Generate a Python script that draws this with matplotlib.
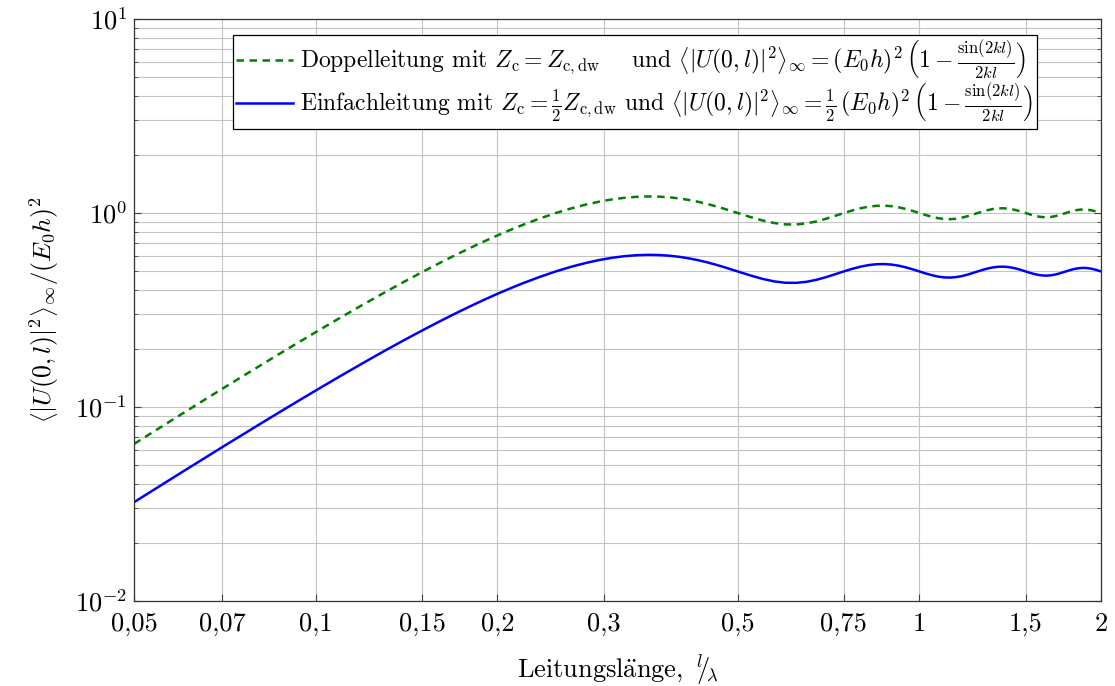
import matplotlib
matplotlib.use("Agg")
import matplotlib.pyplot as plt
from matplotlib.ticker import FixedLocator, FixedFormatter, LogLocator, NullFormatter

# === DATA ===
l_lambda = [0.05, 0.06, 0.07, 0.08, 0.09, 0.10, 0.11, 0.12, 0.13, 0.14,
            0.15, 0.16, 0.17, 0.18, 0.19, 0.20, 0.21, 0.22, 0.235, 0.25,
            0.265, 0.28, 0.295, 0.31, 0.325, 0.34, 0.355, 0.37, 0.385, 0.40,
            0.415, 0.43, 0.445, 0.46, 0.475,
            0.50, 0.525, 0.55, 0.575, 0.60, 0.625, 0.65, 0.675, 0.70, 0.725,
            0.75, 0.775, 0.80, 0.825, 0.85, 0.875, 0.90, 0.925, 0.95, 0.975,
            1.00, 1.025, 1.05, 1.075, 1.10, 1.125, 1.15, 1.175, 1.20, 1.225,
            1.25, 1.275, 1.30, 1.325, 1.35, 1.375, 1.40, 1.425, 1.45, 1.475,
            1.50, 1.525, 1.55, 1.575, 1.60, 1.625, 1.65, 1.675, 1.70, 1.725,
            1.75, 1.775, 1.80, 1.825, 1.85, 1.875, 1.90, 1.925, 1.95, 1.975,
            2.00]

doppel = [0.0645, 0.0921, 0.1241, 0.1601, 0.2000, 0.2431, 0.2894, 0.3382, 0.3891, 0.4417,
          0.4954, 0.5500, 0.6048, 0.6594, 0.7133, 0.7661, 0.8174, 0.8669, 0.9365, 1.0000,
          1.0563, 1.1046, 1.1445, 1.1757, 1.1981, 1.2118, 1.2171, 1.2146, 1.2051, 1.1892,
          1.1680, 1.1426, 1.1140, 1.0833, 1.0518,
          1.0000, 0.9532, 0.9150, 0.8880, 0.8739, 0.8727, 0.8836, 0.9046, 0.9332, 0.9661,
          1.0000, 1.0317, 1.0585, 1.0780, 1.0890, 1.0909, 1.0841, 1.0696, 1.0492, 1.0252,
          1.0000, 0.9760, 0.9555, 0.9401, 0.9312, 0.9293, 0.9342, 0.9452, 0.9610, 0.9799,
          1.0000, 1.0193, 1.0360, 1.0486, 1.0561, 1.0579, 1.0541, 1.0452, 1.0323, 1.0167,
          1.0000, 0.9839, 0.9698, 0.9591, 0.9527, 0.9510, 0.9541, 0.9616, 0.9725, 0.9857,
          1.0000, 1.0139, 1.0260, 1.0353, 1.0409, 1.0424, 1.0398, 1.0334, 1.0240, 1.0125,
          1.0000]

einfach = [0.0323, 0.0461, 0.0621, 0.0801, 0.1000, 0.1216, 0.1447, 0.1691, 0.1946, 0.2209,
           0.2477, 0.2750, 0.3024, 0.3297, 0.3567, 0.3831, 0.4087, 0.4335, 0.4683, 0.5000,
           0.5282, 0.5523, 0.5723, 0.5879, 0.5991, 0.6059, 0.6086, 0.6073, 0.6026, 0.5946,
           0.5840, 0.5713, 0.5570, 0.5417, 0.5259,
           0.5000, 0.4766, 0.4575, 0.4440, 0.4370, 0.4364, 0.4418, 0.4523, 0.4666, 0.4831,
           0.5000, 0.5159, 0.5293, 0.5390, 0.5445, 0.5455, 0.5421, 0.5348, 0.5246, 0.5126,
           0.5000, 0.4880, 0.4778, 0.4701, 0.4656, 0.4647, 0.4671, 0.4726, 0.4805, 0.4900,
           0.5000, 0.5097, 0.5180, 0.5243, 0.5281, 0.5290, 0.5271, 0.5226, 0.5162, 0.5084,
           0.5000, 0.4920, 0.4849, 0.4796, 0.4764, 0.4755, 0.4771, 0.4808, 0.4863, 0.4929,
           0.5000, 0.5070, 0.5130, 0.5177, 0.5205, 0.5212, 0.5199, 0.5167, 0.5120, 0.5063,
           0.5000]

x_ticks = [0.05, 0.07, 0.1, 0.15, 0.2, 0.3, 0.5, 0.75, 1, 1.5, 2]
x_labels = ["0,05", "0,07", "0,1", "0,15", "0,2", "0,3", "0,5", "0,75", "1", "1,5", "2"]
y_ticks = [1e-2, 1e-1, 1e0, 1e1]
y_labels = [r"$10^{-2}$", r"$10^{-1}$", r"$10^{0}$", r"$10^{1}$"]

label_doppel = (r"Doppelleitung mit $Z_\mathrm{c} = Z_\mathrm{c,dw}$    und "
                r"$\left\langle|U(0,l)|^2\right\rangle_\infty = (E_0h)^2\,"
                r"\left(1-\frac{\sin(2kl)}{2kl}\right)$")
label_einfach = (r"Einfachleitung mit $Z_\mathrm{c} = \frac{1}{2}Z_\mathrm{c,dw}$ und "
                 r"$\left\langle|U(0,l)|^2\right\rangle_\infty = \frac{1}{2}\,(E_0h)^2\,"
                 r"\left(1-\frac{\sin(2kl)}{2kl}\right)$")
# =====================================

plt.rcParams["font.family"] = ["cmr10", "DejaVu Serif"]
plt.rcParams["mathtext.fontset"] = "cm"
plt.rcParams["axes.formatter.use_mathtext"] = True

GRID = "#c4c4c4"

fig = plt.figure(figsize=(11.15, 6.86), dpi=100)
ax = fig.add_axes([0.1202, 0.1239, 0.8672, 0.8484])

ax.plot(l_lambda, doppel, color="#008000", lw=1.8, ls=(0, (3.0, 2.2)), label=label_doppel)
ax.plot(l_lambda, einfach, color="#0000ff", lw=1.8, label=label_einfach)

ax.set_xscale("log")
ax.set_yscale("log")
ax.set_xlim(0.05, 2)
ax.set_ylim(1e-2, 1e1)

ax.xaxis.set_major_locator(FixedLocator(x_ticks))
ax.xaxis.set_major_formatter(FixedFormatter(x_labels))
ax.xaxis.set_minor_locator(FixedLocator([]))
ax.yaxis.set_major_locator(FixedLocator(y_ticks))
ax.yaxis.set_major_formatter(FixedFormatter(y_labels))
ax.yaxis.set_minor_locator(LogLocator(base=10, subs=range(2, 10)))
ax.yaxis.set_minor_formatter(NullFormatter())

ax.grid(True, which="major", color=GRID, lw=0.8)
ax.grid(True, which="minor", axis="y", color=GRID, lw=0.8)
ax.set_axisbelow(True)

ax.tick_params(which="both", direction="in", color="#444444", top=False, right=True)
ax.tick_params(which="major", length=5, width=0.8, labelsize=19)
ax.tick_params(axis="x", which="major", pad=8)
ax.tick_params(axis="y", which="major", pad=5)
ax.tick_params(which="minor", length=3, width=0.6)
for sp in ax.spines.values():
    sp.set_color("#333333")
    sp.set_linewidth(0.9)

ax.set_xlabel(r"$\mathrm{Leitungsl\ddot{a}nge},\ {}^{l}\!\!/\!{}_{\lambda}$", fontsize=19, labelpad=12)
ax.set_ylabel(r"$\left.\left\langle|U(0,l)|^2\right\rangle_\infty\right/{(E_0h)^2}$",
              fontsize=18.5, labelpad=10)

leg = ax.legend(loc="upper left", bbox_to_anchor=(0.102, 0.9725), borderaxespad=0,
                fontsize=17, frameon=True, fancybox=False, framealpha=1, edgecolor="black",
                handlelength=2.4, handletextpad=0.3, borderpad=0.15, labelspacing=0.0)
leg.get_frame().set_linewidth(0.9)

fig.savefig("out.png", dpi=100)
